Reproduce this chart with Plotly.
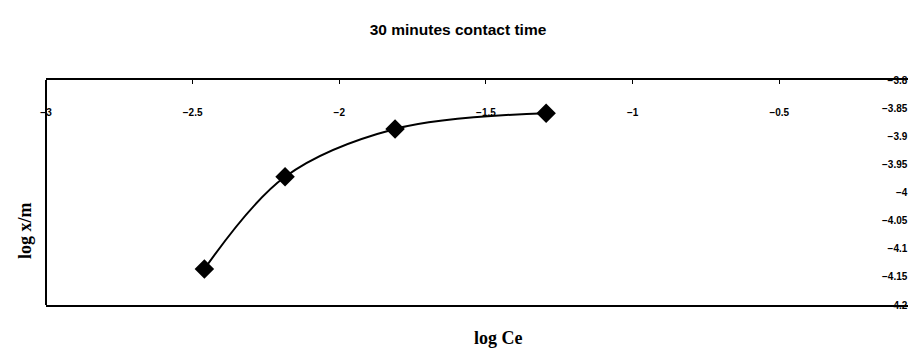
import plotly.graph_objects as go

log_ce = [-2.46, -2.185, -1.81, -1.295]
log_xm = [-4.136, -3.972, -3.887, -3.859]

x_ticks = [-3, -2.5, -2, -1.5, -1, -0.5]
y_ticks = [-3.8, -3.85, -3.9, -3.95, -4, -4.05, -4.1, -4.15, -4.2]

tick_font = dict(family="Arial", size=10, color="black", weight="bold")

fig = go.Figure()
fig.add_trace(go.Scatter(
    x=log_ce, y=log_xm, mode="lines+markers",
    line=dict(color="black", width=2, shape="spline", smoothing=1),
    marker=dict(symbol="diamond", size=15, color="black"),
    showlegend=False,
))

# page body has an 8px margin, so the figure is sized to 908x342
fig.update_layout(
    width=908, height=342,
    margin=dict(l=38, r=0, t=72, b=45, autoexpand=False),
    paper_bgcolor="white", plot_bgcolor="white",
    title=dict(text="<b>30 minutes contact time</b>", x=0.4956, xanchor="center",
               y=0.937, yanchor="middle",
               font=dict(family="Arial", size=15.5, color="black")),
    xaxis=dict(range=[-3, -0.034], side="top", tickvals=x_ticks,
               ticks="inside", ticklen=4, tickcolor="black",
               ticklabelposition="inside", ticklabeloverflow="allow",
               ticklabelstandoff=24, automargin=False,
               tickfont=tick_font,
               showline=True, linecolor="black", linewidth=2, mirror=True,
               showgrid=False, zeroline=False),
    yaxis=dict(range=[-4.2, -3.8], side="left", anchor="free", position=0.99,
               tickvals=y_ticks, ticks="", automargin=False,
               tickfont=tick_font,
               showline=False, showgrid=False, zeroline=False),
    shapes=[dict(type="line", xref="paper", yref="paper", x0=0, x1=0, y0=0, y1=1,
                 line=dict(color="black", width=2))],
    annotations=[
        dict(text="<b>log Ce</b>", xref="paper", yref="paper", x=0.52, y=-0.147,
             xanchor="center", yanchor="middle", showarrow=False,
             font=dict(family="Liberation Serif, Times New Roman", size=18, color="black")),
        dict(text="<b>log x/m</b>", xref="paper", yref="paper", x=-0.025, y=0.33,
             xanchor="center", yanchor="middle", showarrow=False, textangle=-90,
             font=dict(family="Liberation Serif, Times New Roman", size=18, color="black")),
    ],
)

fig.write_html("out.html")
